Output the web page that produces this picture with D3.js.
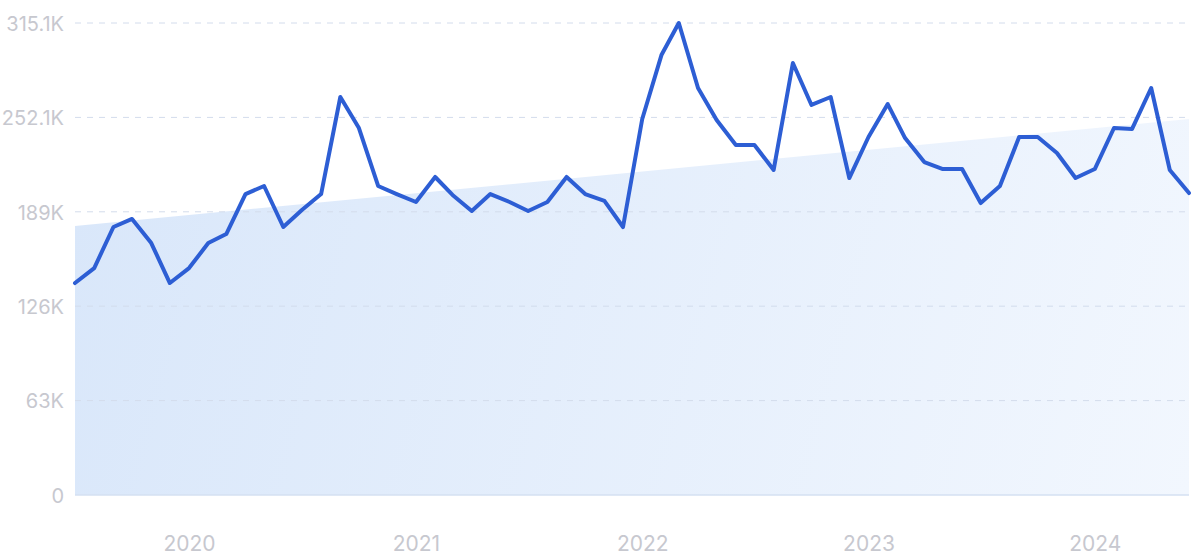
<!DOCTYPE html>
<html>
<head>
<meta charset="utf-8">
<script src="https://cdn.jsdelivr.net/npm/d3@7"></script>
<style>
  html, body { margin: 0; padding: 0; background: #ffffff; }
  svg { display: block; }
</style>
</head>
<body>
<svg id="chart" width="1200" height="559"></svg>
<script>
// ---- data (values in thousands) ----
const startMonth = "2019-07";
const values = [
  141.5, 151.5, 178.9, 184.3, 168.2, 141.5, 151.5, 168.2, 174.2, 200.9,
  206.3, 178.9, 190.3, 200.9, 265.7, 245.0, 206.3, 200.9, 195.6, 212.3,
  200.3, 189.6, 200.9, 195.6, 189.6, 195.6, 212.3, 200.9, 196.3, 178.9,
  251.0, 293.7, 315.1, 271.7, 250.3, 233.7, 233.7, 217.0, 288.4, 260.4,
  265.7, 211.6, 239.0, 261.0, 238.3, 222.3, 217.6, 217.6, 194.9, 206.3,
  239.0, 239.0, 228.3, 211.6, 217.6, 245.0, 244.3, 271.7, 217.0, 201.6
];
const trend = [179.6, 251.0];
const yMax = 315.1;
const yTickLabels = ["0", "63K", "126K", "189K", "252.1K", "315.1K"];
const xTickYears = [2020, 2021, 2022, 2023, 2024];

// ---- build ----
const parse = d3.timeParse("%Y-%m");
const t0 = parse(startMonth);
const data = values.map((v, i) => ({ date: d3.timeMonth.offset(t0, i), value: v }));

const svg = d3.select("#chart");
const mLeft = 75, mRight = 1189, mTop = 23, mBottom = 495;

const x = d3.scaleTime()
  .domain([data[0].date, data[data.length - 1].date])
  .range([mLeft, mRight]);
const y = d3.scaleLinear().domain([0, yMax]).range([mBottom, mTop]);

const defs = svg.append("defs");
const grad = defs.append("linearGradient")
  .attr("id", "areaGrad")
  .attr("gradientUnits", "userSpaceOnUse")
  .attr("x1", mLeft).attr("y1", 200).attr("x2", mRight).attr("y2", 495);
grad.append("stop").attr("offset", "0%").attr("stop-color", "#d9e7fa");
grad.append("stop").attr("offset", "100%").attr("stop-color", "#f2f7fe");

// trend area
const trendData = [
  { date: data[0].date, value: trend[0] },
  { date: data[data.length - 1].date, value: trend[1] }
];
svg.append("path")
  .datum(trendData)
  .attr("fill", "url(#areaGrad)")
  .attr("d", d3.area().x(d => x(d.date)).y0(y(0)).y1(d => y(d.value)));

// gridlines
const yTicks = yTickLabels.map((_, i) => yMax * i / (yTickLabels.length - 1));
const grid = svg.append("g");
grid.selectAll("line")
  .data(yTicks.filter(v => v > 0))
  .join("line")
  .attr("x1", mLeft).attr("x2", mRight)
  .attr("y1", d => y(d)).attr("y2", d => y(d))
  .attr("stroke", "#d3dcec")
  .attr("stroke-width", 1)
  .attr("stroke-dasharray", "6,6");

// baseline
svg.append("line")
  .attr("x1", mLeft).attr("x2", mRight)
  .attr("y1", y(0)).attr("y2", y(0))
  .attr("stroke", "#d5e1f2")
  .attr("stroke-width", 1.5);

// y axis
const yAxis = d3.axisLeft(y)
  .tickValues(yTicks)
  .tickFormat((d, i) => yTickLabels[i])
  .tickSize(0)
  .tickPadding(11);
const gy = svg.append("g").attr("transform", `translate(${mLeft},0)`).call(yAxis);
gy.select(".domain").remove();
gy.selectAll("text")
  .attr("fill", "#c7c8cf")
  .style("font-family", "Inter, 'Noto Sans', sans-serif")
  .style("font-size", "20px")
  .attr("dy", "0.36em");

// x axis
const xAxis = d3.axisBottom(x)
  .tickValues(xTickYears.map(yr => new Date(yr, 0, 1)))
  .tickFormat(d3.timeFormat("%Y"))
  .tickSize(0)
  .tickPadding(0);
const gx = svg.append("g").attr("transform", `translate(0,${mBottom})`).call(xAxis);
gx.select(".domain").remove();
gx.selectAll("text")
  .attr("fill", "#c7c8cf")
  .attr("y", 56)
  .attr("dy", "0")
  .style("font-family", "Inter, 'Noto Sans', sans-serif")
  .style("font-size", "21px");

// line
svg.append("path")
  .datum(data)
  .attr("fill", "none")
  .attr("stroke", "#2d5ed4")
  .attr("stroke-width", 4)
  .attr("stroke-linejoin", "round")
  .attr("stroke-linecap", "round")
  .attr("d", d3.line().x(d => x(d.date)).y(d => y(d.value)));
</script>
</body>
</html>
